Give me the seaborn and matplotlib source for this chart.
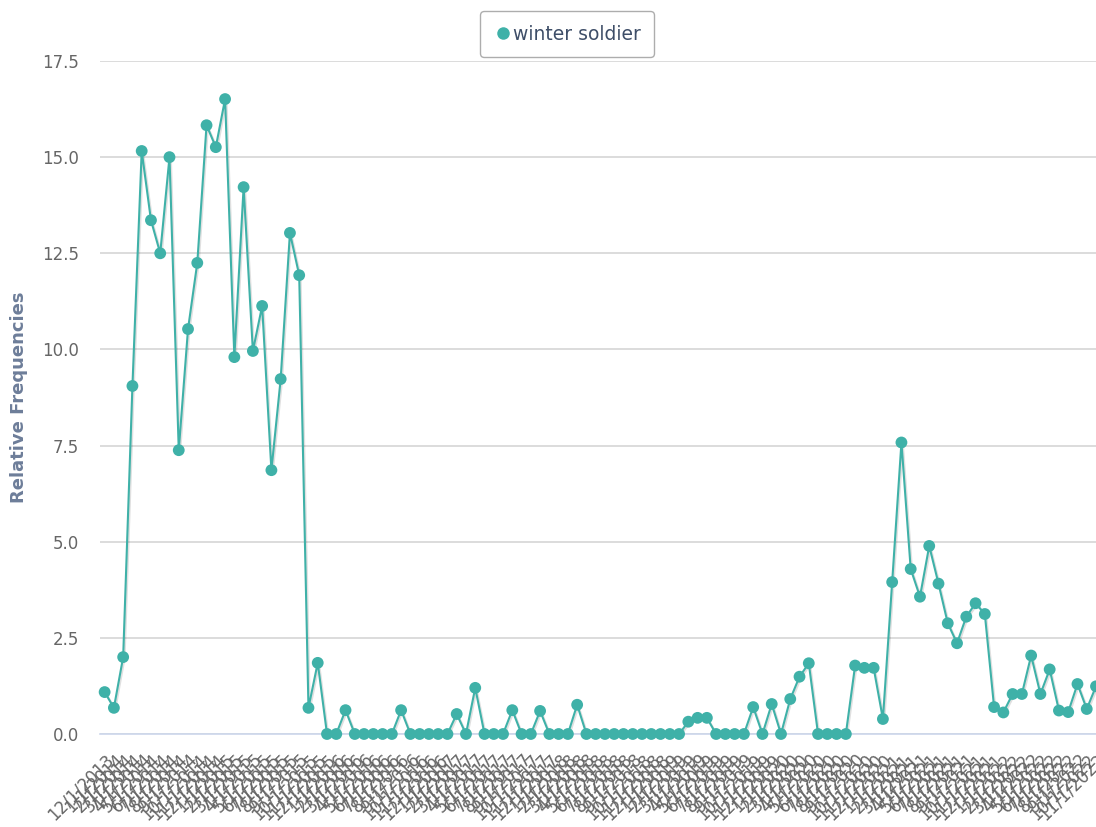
#!/usr/bin/env python3
import pandas as pd
import matplotlib
matplotlib.use("Agg")
import matplotlib.pyplot as plt
import matplotlib.patheffects as pe
from matplotlib.lines import Line2D
import seaborn as sns

# monthly relative frequencies
series_name = "winter soldier"
values = [
    1.09, 0.68, 2.00, 9.05, 15.16, 13.36, 12.50, 15.00, 7.38, 10.53,
    12.25, 15.83, 15.26, 16.51, 9.80, 14.22, 9.96, 11.13, 6.86, 9.23,
    13.03, 11.93, 0.68, 1.85, 0.00, 0.00, 0.62, 0.00, 0.00, 0.00,
    0.00, 0.00, 0.62, 0.00, 0.00, 0.00, 0.00, 0.00, 0.52, 0.00,
    1.20, 0.00, 0.00, 0.00, 0.62, 0.00, 0.00, 0.60, 0.00, 0.00,
    0.00, 0.76, 0.00, 0.00, 0.00, 0.00, 0.00, 0.00, 0.00, 0.00,
    0.00, 0.00, 0.00, 0.32, 0.42, 0.42, 0.00, 0.00, 0.00, 0.00,
    0.70, 0.00, 0.78, 0.00, 0.91, 1.49, 1.84, 0.00, 0.00, 0.00,
    0.00, 1.78, 1.72, 1.72, 0.39, 3.95, 7.58, 4.29, 3.57, 4.89,
    3.91, 2.88, 2.36, 3.05, 3.40, 3.12, 0.70, 0.56, 1.04, 1.04,
    2.04, 1.04, 1.68, 0.61, 0.57, 1.30, 0.65, 1.24,
]
dates = pd.date_range("2013-12-01", periods=len(values), freq="MS")
date_labels = [f"{d.month}/{d.day}/{d.year}" for d in dates]
y_ticks = [0.0, 2.5, 5.0, 7.5, 10.0, 12.5, 15.0, 17.5]

teal = "#3fb1a8"

df = pd.DataFrame({"pos": range(len(values)), "freq": values})

sns.set_style("white")
plt.rcParams["font.family"] = ["DejaVu Sans"]

fig = plt.figure(figsize=(10.96, 8.27), dpi=100)
ax = fig.add_axes([100 / 1096, 93 / 827, 996 / 1096, 673 / 827])

sns.lineplot(data=df, x="pos", y="freq", ax=ax, color=teal, linewidth=1.5,
             marker="o", markersize=8.5, markeredgewidth=0,
             markerfacecolor=teal, sort=False, clip_on=False, zorder=3,
             path_effects=[pe.SimpleLineShadow(offset=(1, -1), alpha=0.12),
                           pe.Normal()])

ax.set_xlim(-0.5, 106.5)
ax.set_ylim(0, 17.5)

ax.set_yticks(y_ticks)
ax.set_yticklabels([f"{t:.1f}" for t in y_ticks], fontsize=12, color="#666666")
ax.yaxis.grid(True, color="#d6d6d6", linewidth=1.2)
ax.tick_params(axis="y", length=0, pad=15)

ax.set_xticks(range(len(values)))
ax.set_xticklabels(date_labels, rotation=45, ha="right",
                   rotation_mode="anchor", fontsize=12, color="#666666")
ax.tick_params(axis="x", direction="out", length=9, width=1,
               color="#ccd6eb", pad=3)

for side in ["top", "right", "left"]:
    ax.spines[side].set_visible(False)
ax.spines["bottom"].set_color("#ccd6eb")
ax.spines["bottom"].set_linewidth(1.2)

ax.set_xlabel("")
ax.set_ylabel("Relative Frequencies", fontsize=13, color="#6d7d99",
              fontweight="bold", labelpad=10)

handle = Line2D([], [], linestyle="none", marker="o", markersize=9,
                markerfacecolor=teal, markeredgewidth=0)
leg = fig.legend([handle], [series_name], loc="center",
                 bbox_to_anchor=(567 / 1096, 1 - 34 / 827),
                 fontsize=13.5, frameon=True, fancybox=True,
                 handletextpad=0.05, handlelength=1.0, borderpad=0.7,
                 labelcolor="#3e4e68")
leg.get_frame().set_edgecolor("#999999")
leg.get_frame().set_linewidth(1.0)

fig.savefig("out.png", dpi=100)
